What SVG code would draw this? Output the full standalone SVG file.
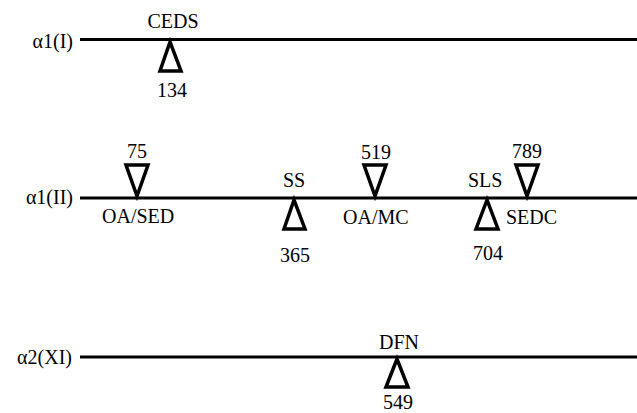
<svg xmlns="http://www.w3.org/2000/svg" width="637" height="413" viewBox="0 0 637 413">
<style>
text{font-family:"Liberation Serif","Times New Roman",serif;font-size:20px;fill:#000}
.c{text-anchor:middle}
.e{text-anchor:end}
.ln{stroke:#000;stroke-width:3;fill:none}
.tri{stroke:#000;stroke-width:3.5;fill:#fff;stroke-linejoin:miter}
</style>
<rect width="637" height="413" fill="#fff"/>
<g id="connectors">
<line class="ln" x1="80" y1="39.5" x2="637" y2="39.5"/>
<line class="ln" x1="80" y1="198" x2="637" y2="198"/>
<line class="ln" x1="80" y1="357" x2="637" y2="357"/>
</g>
<g id="chain-a1I">
<text class="e" x="73" y="48">α1(I)</text>
</g>
<g id="chain-a1II">
<text class="e" x="73" y="204">α1(II)</text>
</g>
<g id="chain-a2XI">
<text class="e" x="72" y="364">α2(XI)</text>
</g>
<g id="m134">
<polygon class="tri" points="170,42 160,71 181,71"/>
<text class="c" x="173" y="28">CEDS</text>
<text class="c" x="172" y="97">134</text>
</g>
<g id="m75">
<polygon class="tri" points="126,165 148,165 137,196"/>
<text class="c" x="137" y="158">75</text>
<text x="102" y="223">OA/SED</text>
</g>
<g id="m365">
<polygon class="tri" points="294,200 284,229 305,229"/>
<text class="c" x="294" y="187">SS</text>
<text class="c" x="295" y="262">365</text>
</g>
<g id="m519">
<polygon class="tri" points="364,165 386,165 375,196"/>
<text class="c" x="376" y="159">519</text>
<text x="343" y="224">OA/MC</text>
</g>
<g id="m704">
<polygon class="tri" points="487,200 476,229 498,229"/>
<text x="468" y="187">SLS</text>
<text class="c" x="488" y="260">704</text>
</g>
<g id="m789">
<polygon class="tri" points="516,165 538,165 527,196"/>
<text class="c" x="527" y="158">789</text>
<text x="506" y="224">SEDC</text>
</g>
<g id="m549">
<polygon class="tri" points="397,359 386,387 408,387"/>
<text class="c" x="399" y="349">DFN</text>
<text class="c" x="398" y="409">549</text>
</g>
</svg>
